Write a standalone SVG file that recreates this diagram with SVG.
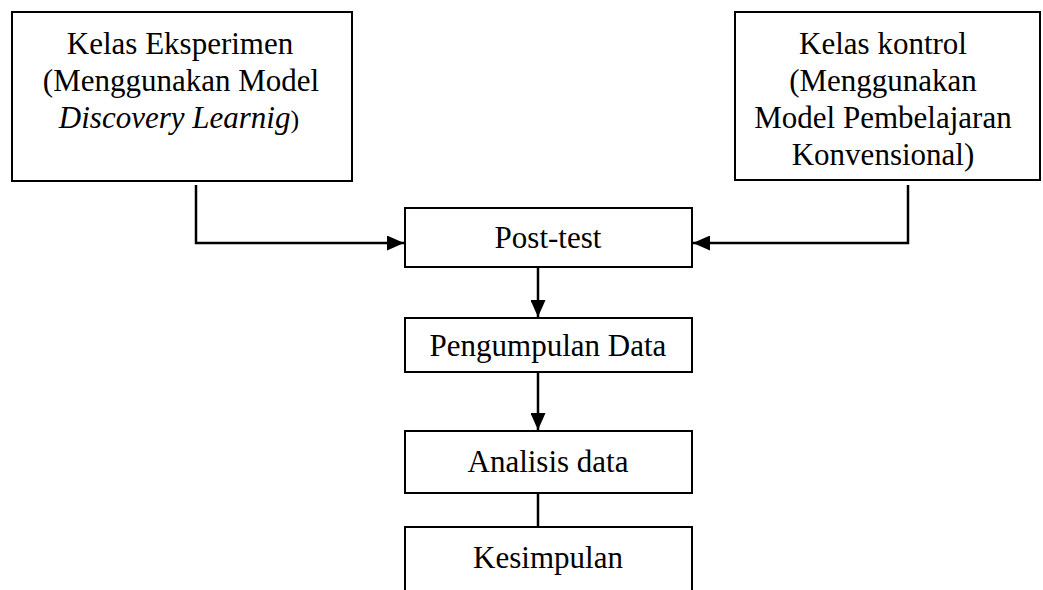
<svg xmlns="http://www.w3.org/2000/svg" width="1043" height="590" viewBox="0 0 1043 590">
<style>
.box{fill:#fff;stroke:#000;stroke-width:2}
.t{font-family:"Liberation Serif","Times New Roman",serif;font-size:31px;fill:#000;text-anchor:middle}
.c{stroke:#000;stroke-width:2.5;fill:none}
</style>
<defs>
<marker id="ah" markerWidth="17" markerHeight="15" refX="17" refY="7.5" orient="auto" markerUnits="userSpaceOnUse">
<path d="M0,0 L17,7.5 L0,15 Z" fill="#000"/>
</marker>
</defs>
<rect width="1043" height="590" fill="#fff"/>
<g id="connectors">
<polyline class="c" points="196,185 196,243 404,243" marker-end="url(#ah)"/>
<polyline class="c" points="908,185 908,243 693,243" marker-end="url(#ah)"/>
<line class="c" x1="538" y1="268" x2="538" y2="317" marker-end="url(#ah)"/>
<line class="c" x1="538" y1="373" x2="538" y2="430" marker-end="url(#ah)"/>
<line class="c" x1="538" y1="493" x2="538" y2="527"/>
</g>
<g id="kelas-eksperimen">
<rect class="box" x="12" y="12" width="340" height="169"/>
<text class="t" x="180" y="54">Kelas Eksperimen</text>
<text class="t" x="181" y="91">(Menggunakan Model</text>
<text class="t" x="179" y="128"><tspan font-style="italic">Discovery Learnig</tspan><tspan font-size="26">)</tspan></text>
</g>
<g id="kelas-kontrol">
<rect class="box" x="735" y="12" width="305" height="168"/>
<text class="t" x="883" y="54">Kelas kontrol</text>
<text class="t" x="883" y="91">(Menggunakan</text>
<text class="t" x="883" y="128">Model Pembelajaran</text>
<text class="t" x="883" y="165">Konvensional)</text>
</g>
<g id="post-test">
<rect class="box" x="405" y="208" width="287" height="59"/>
<text class="t" x="548" y="248">Post-test</text>
</g>
<g id="pengumpulan-data">
<rect class="box" x="405" y="318" width="287" height="54"/>
<text class="t" x="548" y="356">Pengumpulan Data</text>
</g>
<g id="analisis-data">
<rect class="box" x="405" y="431" width="287" height="62"/>
<text class="t" x="548" y="472">Analisis data</text>
</g>
<g id="kesimpulan">
<rect class="box" x="405" y="527" width="287" height="80"/>
<text class="t" x="548" y="568">Kesimpulan</text>
</g>
</svg>
